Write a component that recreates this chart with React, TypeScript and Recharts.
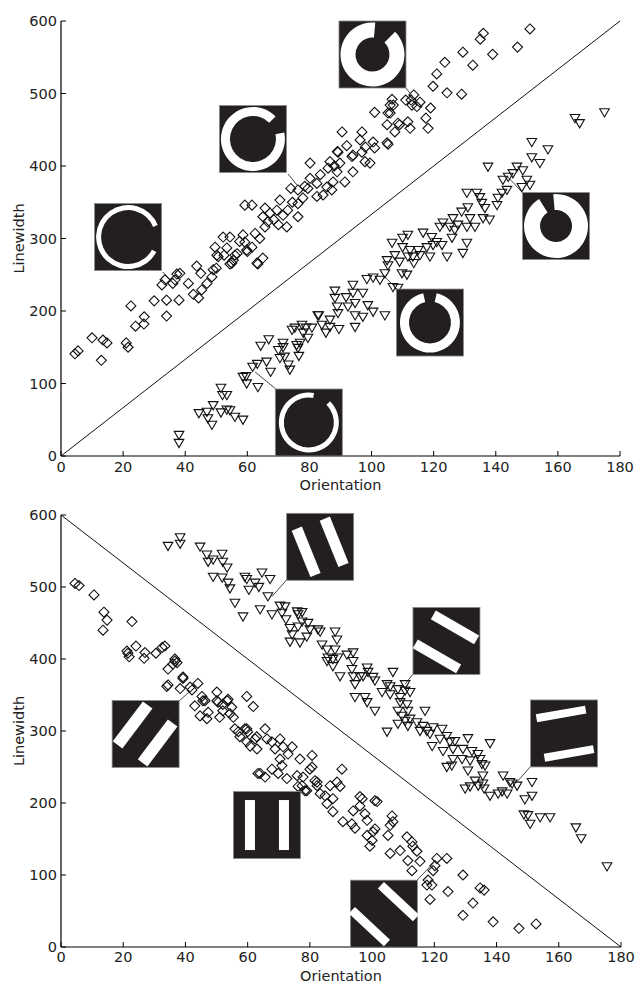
import React from 'react';
import { ScatterChart, Scatter, XAxis, YAxis, ReferenceLine, ReferenceDot } from 'recharts';

type Pt = [number, number];

const xTicks = [0, 20, 40, 60, 80, 100, 120, 140, 160, 180];
const yTicks = [0, 100, 200, 300, 400, 500, 600];
const xLabel = 'Orientation';
const yLabel = 'Linewidth';

// ---------- top panel (rings) ----------
const topDiamonds: Pt[] = [
  [4.5, 141], [5.5, 145], [10, 163], [13, 132], [13.5, 160], [14.8, 156], [21, 156], [21.6, 150], [22.5, 207],
  [24, 179], [26.7, 182], [26.8, 192], [30, 214], [34, 215], [34, 193], [32.5, 236], [33.5, 243], [36, 238],
  [37.3, 251], [36.7, 243], [38, 215], [38.3, 252], [41, 238], [42.6, 223], [44.3, 218], [43.7, 262], [45, 252],
  [45.3, 229], [47, 238], [48.6, 247], [49, 257], [49.6, 288], [50, 259], [50.2, 277], [50.6, 275], [52.2, 302],
  [52.5, 277], [53.4, 287], [54.4, 302], [54.4, 265], [55, 266], [55.5, 270], [56, 277], [56.7, 279], [58.6, 305],
  [59.2, 295], [59.8, 284], [60, 282], [61.5, 288], [62.5, 307], [63.1, 266], [63.4, 265], [65, 273], [59.2, 346],
  [61.5, 346], [65.7, 342], [65, 330], [67.3, 335], [66.6, 323], [65.7, 316], [69.5, 339], [70.5, 353], [71.5, 332],
  [70, 319], [72.7, 316], [74, 369], [73, 339], [76.3, 367], [76.3, 330], [76.3, 348], [77.9, 356], [80.2, 404],
  [80.2, 383], [79.5, 369], [82.4, 376], [82.4, 358], [84.4, 360], [85.6, 371], [86.6, 406], [86, 397], [87.6, 378],
  [88.9, 392], [87.2, 367], [89.8, 404], [89.2, 419], [90.5, 447], [91.4, 378], [93.7, 413], [94, 392], [96.9, 447],
  [96.3, 436], [96.9, 419], [97.9, 406], [99.5, 404], [100.5, 433], [101, 425], [101, 474], [105, 432], [105, 457],
  [106, 473], [107.5, 447], [106, 484], [109, 457], [111.7, 461], [112.4, 452], [113, 484], [151, 589], [147, 564],
  [136, 583], [135, 575], [139, 554], [129.4, 557], [123.6, 543], [132.6, 539], [121, 527], [119.8, 510], [124.3, 501],
  [129, 499], [113.6, 498], [112.7, 491], [111, 491], [115.6, 488], [114.6, 482], [119, 480], [106.6, 492], [105.3, 473],
  [107, 484], [117.5, 466], [108.5, 459], [118.2, 452], [105.3, 430], [94, 415], [98, 426], [89, 420], [57.5, 296],
  [64, 300], [68.5, 326], [74.5, 350], [78.5, 372], [83.5, 388], [88, 400], [92, 428],
];

const topTriangles: Pt[] = [
  [38, 29], [38, 18], [44.4, 59], [47, 61], [47.3, 52], [48.6, 43], [49, 70], [51.5, 60], [51.5, 94], [52, 84],
  [53.4, 84], [53.4, 64], [54.4, 63], [56, 54], [58.6, 50], [58.6, 109], [59.8, 100], [59.6, 110], [61.7, 123],
  [63.4, 95], [63.2, 127], [64.3, 152], [66.2, 130], [66.9, 161], [67.5, 116], [70, 146], [70.5, 135], [71.5, 156],
  [71.5, 150], [72, 137], [73.2, 126], [73.7, 119], [75.3, 177], [75.9, 153], [76.3, 149], [76.6, 138], [77.6, 181],
  [78, 170], [78.9, 177], [79.5, 163], [80.8, 177], [83, 194], [74.4, 174], [77, 156], [82.7, 194], [85.3, 170],
  [84, 181], [86.6, 188], [86.6, 178], [88.2, 228], [88.2, 218], [88.9, 206], [89.2, 197], [89.5, 175], [91.8, 219],
  [92.4, 206], [94, 236], [94, 225], [94.7, 211], [94.7, 194], [94.7, 178], [97.2, 225], [97.2, 192], [98.8, 208],
  [100.5, 199], [98.5, 244], [100.5, 246], [104.3, 194], [102.7, 243], [104.3, 252], [105, 270], [105.3, 263],
  [106.6, 294], [106.9, 233], [108.5, 232], [107.5, 277], [109, 268], [109.8, 252], [110, 301], [110, 288],
  [111.4, 250], [111.7, 305], [112.4, 284], [111.7, 275], [113.6, 266], [113.3, 275], [115, 284], [115.6, 277],
  [116.6, 308], [117.8, 288], [118.8, 275], [119.4, 302], [119.8, 291], [121, 295], [122, 316], [122.7, 291],
  [124.3, 275], [123, 322], [125.2, 316], [126.2, 328], [125.9, 301], [126.8, 312], [127.8, 319], [129, 337],
  [130.7, 363], [131, 343], [130.7, 316], [130.7, 294], [129.4, 280], [131.7, 328], [133.3, 316], [133.9, 363],
  [134.9, 357], [135.5, 349], [136.5, 342], [135.9, 328], [138, 326], [137.5, 399], [140.4, 346], [140.7, 356],
  [142, 363], [142.3, 381], [143.6, 367], [144, 385], [145.5, 390], [146.8, 399], [148.4, 371], [148.7, 394],
  [150, 381], [151, 374], [151.6, 412], [154.2, 404], [151.6, 433], [156.8, 423], [175, 474], [165.5, 466], [167, 459],
];

// ---------- bottom panel (bars) ----------
const bottomDiamonds: Pt[] = [
  [4.5, 505], [5.8, 502], [10.6, 489], [13.8, 465], [14.8, 454], [13.5, 440], [22.8, 452], [21.2, 411], [21.5, 408],
  [21.9, 403], [24.1, 418], [27, 409], [26.7, 401], [30.5, 408], [32.5, 416], [33.4, 418], [34.4, 386], [36, 393],
  [36.6, 400], [37.3, 395], [34.4, 364], [38.3, 359], [39.2, 373], [41.5, 361], [42.1, 357], [44, 366], [43, 335],
  [45.3, 348], [45.6, 342], [44.7, 321], [47.3, 326], [46.9, 317], [50.1, 354], [50.1, 342], [51, 319], [52, 337],
  [53.7, 344], [54.9, 333], [54.3, 324], [55.4, 319], [55.9, 303], [57, 299], [59.7, 348], [61.8, 334], [59.7, 303],
  [59.7, 285], [62.9, 292], [65.6, 303], [36.6, 397], [39.2, 375], [34, 362], [46.3, 342], [50.5, 340], [53.4, 342],
  [52, 328], [59.1, 303], [57.5, 292], [60, 299], [62.4, 289], [60.8, 279], [63, 275], [66.2, 289], [67.8, 285],
  [68.8, 275], [70.4, 289], [71.4, 278], [74.3, 278], [73, 268], [70.4, 261], [71, 252], [64, 241], [65.6, 236],
  [67.8, 247], [69.8, 241], [72.6, 234], [75.9, 238], [76.8, 261], [80.7, 266], [80, 247], [77.8, 236], [77.5, 224],
  [79, 217], [82.3, 224], [81.6, 231], [86.5, 224], [90.3, 247], [88.7, 229], [89.7, 223], [84.9, 210], [87.4, 206],
  [96.1, 209], [100.9, 203], [63.3, 241], [76.2, 223], [78.4, 217], [80.7, 250], [82.3, 229], [83.3, 213], [85.5, 199],
  [87.4, 188], [90.6, 174], [93.5, 171], [94.5, 165], [93.9, 189], [96.8, 206], [96.1, 196], [97.7, 185], [98.4, 176],
  [101.6, 202], [100.3, 160], [98.4, 155], [100, 148], [99.3, 140], [100.9, 164], [105.1, 155], [106.4, 182],
  [106.7, 174], [105.8, 169], [105.8, 130], [109, 134], [111.2, 153], [112.8, 146], [113.1, 140], [114.4, 133],
  [111.5, 120], [112.8, 106], [115.4, 119], [120.8, 123], [124, 123], [120.2, 113], [119.6, 106], [118, 93], [119.2, 86],
  [129.2, 100], [124.4, 77], [117.6, 86], [118.6, 66], [132.4, 61], [134.7, 82], [136, 79], [138.9, 35], [147.2, 26],
  [152.7, 32], [129.2, 44],
];

const bottomTriangles: Pt[] = [
  [34.4, 557], [38.3, 569], [38.3, 560], [44.7, 556], [46.9, 545], [47.3, 535], [48.9, 538], [51.8, 546], [52, 535],
  [53.4, 527], [48.9, 514], [51.8, 513], [53.7, 506], [54.3, 498], [59.1, 514], [59.7, 511], [62.4, 506], [64.6, 520],
  [67.2, 511], [60.4, 496], [63.6, 500], [55.9, 478], [58.5, 459], [64, 469], [66.5, 487], [67.8, 462], [70.4, 474],
  [72, 473], [71, 464], [72.3, 455], [75.9, 466], [76.2, 462], [77.5, 465], [74.3, 434], [73.6, 424], [76.8, 423],
  [79, 431], [73.6, 443], [76.2, 445], [77.5, 452], [79.4, 450], [80, 441], [82.6, 441], [83.3, 438], [88.1, 438],
  [88.7, 427], [83.9, 420], [85.5, 413], [85.8, 402], [87.4, 400], [85.5, 397], [88.1, 413], [89, 402], [89.7, 376],
  [87.4, 390], [91.9, 406], [93.9, 409], [93.9, 397], [93.5, 386], [93.9, 376], [94.5, 365], [96.1, 376], [97.1, 376],
  [98.4, 388], [98.7, 382], [100.3, 375], [100.9, 370], [94.5, 347], [97.7, 347], [98.4, 340], [100.9, 328],
  [106.7, 382], [103.2, 354], [105.8, 351], [104.8, 365], [105.8, 362], [108.3, 358], [109, 347], [110.6, 365],
  [110.6, 356], [112.2, 354], [109, 340], [111.2, 337], [108.3, 328], [111.5, 328], [109.6, 321], [110.6, 314],
  [112.2, 317], [108.3, 310], [111.5, 307], [104.8, 299], [117, 328], [114.4, 312], [116.4, 307], [115.4, 300],
  [117.6, 300], [119.6, 305], [118.6, 296], [122.5, 303], [124, 293], [121.8, 289], [119.3, 279], [122.8, 272],
  [125, 285], [126.6, 286], [126, 275], [126, 261], [124, 250], [125.6, 252], [128.9, 261], [129.2, 275], [130.8, 290],
  [132.1, 272], [131.5, 259], [134, 268], [134.7, 261], [135.3, 254], [136.3, 252], [130.8, 245], [133.1, 231],
  [129.9, 220], [131.5, 223], [135.6, 227], [137.9, 283], [135.6, 238], [142.1, 238], [144.3, 229], [146.6, 224],
  [137.9, 210], [140.5, 213], [141.8, 216], [143.4, 213], [149.1, 205], [151.4, 210], [151.4, 229], [145, 227],
  [148.8, 184], [150.1, 183], [150.8, 171], [154, 180], [157.2, 180], [165.5, 166], [167.2, 151], [175.5, 112],
  [134.1, 224], [136, 220],
];

// ---------- inset pictures ----------
type RingArt = { kind: 'ring'; outer: number; inner: number; gapFrom: number; gapTo: number };
type Bar = { dx: number; dy: number; angle: number; len: number; w: number };
type BarsArt = { kind: 'bars'; bars: Bar[] };
type Inset = { center: Pt; corner?: Pt; anchor?: Pt; art: RingArt | BarsArt };

const topInsets: Inset[] = [
  { center: [100.3, 553.8], corner: [111.1, 507.6], anchor: [113.3, 495.2], art: { kind: 'ring', outer: 32, inner: 17, gapFrom: 45, gapTo: 85 } },
  { center: [61.8, 437.2], corner: [73.1, 389], anchor: [76, 373.8], art: { kind: 'ring', outer: 32, inner: 23, gapFrom: 12, gapTo: 45 } },
  { center: [21.6, 302], corner: [32.8, 253.8], anchor: [34.8, 244], art: { kind: 'ring', outer: 32, inner: 27, gapFrom: -28, gapTo: 22 } },
  { center: [79.8, 46.2], corner: [69.2, 92.4], anchor: [62.5, 115.9], art: { kind: 'ring', outer: 30, inner: 25, gapFrom: 45, gapTo: 80 } },
  { center: [118.8, 184.1], corner: [108.2, 230.3], anchor: [104.3, 246.9], art: { kind: 'ring', outer: 30, inner: 21, gapFrom: 77, gapTo: 103 } },
  { center: [159.4, 317.2], corner: [148.7, 362.8], anchor: [143.9, 384.8], art: { kind: 'ring', outer: 32, inner: 16, gapFrom: 95, gapTo: 122 } },
];

const bottomInsets: Inset[] = [
  { center: [83.3, 555.8], corner: [72.6, 510.2], anchor: [67.8, 486.7], art: { kind: 'bars', bars: [
    { dx: -14, dy: 5, angle: -22, len: 50, w: 11 }, { dx: 14, dy: -5, angle: -22, len: 50, w: 11 }] } },
  { center: [123.9, 425.1], corner: [113.1, 378.8], anchor: [110.6, 365], art: { kind: 'bars', bars: [
    { dx: 8.5, dy: -13.5, angle: -60, len: 50, w: 10 }, { dx: -9.5, dy: 15.5, angle: -60, len: 50, w: 10 }] } },
  { center: [161.7, 296.6], corner: [151.1, 251.6], anchor: [146.6, 229.5], art: { kind: 'bars', bars: [
    { dx: -3, dy: -19.5, angle: 80, len: 50, w: 8 }, { dx: 5, dy: 20, angle: 80, len: 50, w: 8 }] } },
  { center: [27.2, 295.9], corner: [37.9, 341.5], anchor: [41.5, 355.3], art: { kind: 'bars', bars: [
    { dx: -13, dy: -9, angle: 37, len: 50, w: 12 }, { dx: 12, dy: 9, angle: 37, len: 50, w: 12 }] } },
  { center: [66.2, 169.4], art: { kind: 'bars', bars: [
    { dx: -17, dy: 0, angle: 0, len: 50, w: 10 }, { dx: 17, dy: 0, angle: 0, len: 50, w: 10 }] } },
  { center: [103.8, 46.3], corner: [114.4, 92.6], anchor: [119.6, 116.1], art: { kind: 'bars', bars: [
    { dx: -14.5, dy: 13, angle: -47, len: 48, w: 9 }, { dx: 14.5, dy: -12, angle: -47, len: 48, w: 9 }] } },
];

const BOX = 67;
const FONT = 'DejaVu Sans';
const INK = '#222';

function ringPath(cx: number, cy: number, R: number, r: number, gapFrom: number, gapTo: number) {
  const a = (gapTo * Math.PI) / 180;
  const b = ((gapFrom + 360) * Math.PI) / 180;
  const large = gapFrom + 360 - gapTo > 180 ? 1 : 0;
  const p = (rad: number, ang: number) => `${cx + rad * Math.cos(ang)},${cy - rad * Math.sin(ang)}`;
  return `M${p(R, a)} A${R},${R} 0 ${large} 0 ${p(R, b)} L${p(r, b)} A${r},${r} 0 ${large} 1 ${p(r, a)} Z`;
}

function InsetArt({ cx, cy, art }: { cx: number; cy: number; art: RingArt | BarsArt }) {
  if (cx == null || cy == null) return null;
  return (
    <g>
      <rect x={cx - BOX / 2} y={cy - BOX / 2} width={BOX} height={BOX} fill="#231f20" stroke="#8a8a8a" strokeWidth={0.8} />
      {art.kind === 'ring' ? (
        <path d={ringPath(cx, cy, art.outer, art.inner, art.gapFrom, art.gapTo)} fill="#fff" />
      ) : (
        art.bars.map((b, i) => (
          <rect key={i} x={-b.w / 2} y={-b.len / 2} width={b.w} height={b.len} fill="#fff"
            transform={`translate(${cx + b.dx},${cy + b.dy}) rotate(${b.angle})`} />
        ))
      )}
    </g>
  );
}

const DiamondShape = (props: any) => {
  const { cx, cy } = props;
  if (cx == null || cy == null) return null;
  const h = 5;
  return <path d={`M${cx},${cy - h}L${cx + h},${cy}L${cx},${cy + h}L${cx - h},${cy}Z`} fill="none" stroke="#111" strokeWidth={1.1} />;
};

const TriangleShape = (props: any) => {
  const { cx, cy } = props;
  if (cx == null || cy == null) return null;
  return <path d={`M${cx - 4.8},${cy - 3.6}L${cx + 4.8},${cy - 3.6}L${cx},${cy + 4.6}Z`} fill="none" stroke="#111" strokeWidth={1.1} />;
};

const toData = (pts: Pt[]) => pts.map(([x, y]) => ({ x, y }));

function Panel({ width, height, margin, xAxisHeight, tickMargin, titleOffset, diamonds, triangles, diagonal, insets }: {
  width: number; height: number; margin: any; xAxisHeight: number; tickMargin: number; titleOffset: number;
  diamonds: Pt[]; triangles: Pt[]; diagonal: [Pt, Pt]; insets: Inset[];
}) {
  const xTitle = (p: any) => {
    const vb = p.viewBox || {};
    return (
      <text x={vb.x + vb.width / 2} y={vb.y + titleOffset} textAnchor="middle" fontFamily={FONT} fontSize={14.5} fill={INK}>
        {xLabel}
      </text>
    );
  };
  const yTitle = (p: any) => {
    const vb = p.viewBox || {};
    const cy = vb.y + vb.height / 2;
    return (
      <text x={16} y={cy} transform={`rotate(-90, 16, ${cy})`} textAnchor="middle" fontFamily={FONT} fontSize={14.5} fill={INK}>
        {yLabel}
      </text>
    );
  };
  return (
    <ScatterChart width={width} height={height} margin={margin}>
      <XAxis type="number" dataKey="x" domain={[0, 180]} ticks={xTicks} interval={0} height={xAxisHeight}
        tickSize={-5} tickMargin={tickMargin}
        axisLine={{ stroke: '#000', strokeWidth: 1.2 }} tickLine={{ stroke: '#000', strokeWidth: 1 }}
        tick={{ fill: INK, fontSize: 14.5, fontFamily: FONT }} label={{ content: xTitle }} />
      <YAxis type="number" dataKey="y" domain={[0, 600]} ticks={yTicks} interval={0} width={53}
        tickSize={-5} tickMargin={9}
        axisLine={{ stroke: '#000', strokeWidth: 1.2 }} tickLine={{ stroke: '#000', strokeWidth: 1 }}
        tick={{ fill: INK, fontSize: 14.5, fontFamily: FONT }} label={{ content: yTitle }} />
      <ReferenceLine segment={[{ x: diagonal[0][0], y: diagonal[0][1] }, { x: diagonal[1][0], y: diagonal[1][1] }]}
        stroke="#111" strokeWidth={1} />
      <Scatter data={toData(diamonds)} shape={DiamondShape} isAnimationActive={false} />
      <Scatter data={toData(triangles)} shape={TriangleShape} isAnimationActive={false} />
      {insets.filter((s) => s.corner && s.anchor).map((s, i) => (
        <ReferenceLine key={`l${i}`} ifOverflow="visible"
          segment={[{ x: s.anchor![0], y: s.anchor![1] }, { x: s.corner![0], y: s.corner![1] }]}
          stroke="#333" strokeWidth={0.9} />
      ))}
      {insets.map((s, i) => (
        <ReferenceDot key={`d${i}`} x={s.center[0]} y={s.center[1]} r={1} ifOverflow="visible"
          shape={(p: any) => <InsetArt cx={p.cx} cy={p.cy} art={s.art} />} />
      ))}
    </ScatterChart>
  );
}

export default function App() {
  return (
    <div style={{ position: 'absolute', top: 8, left: 8, width: 630, height: 976, overflow: 'hidden' }}>
      <Panel width={630} height={490} margin={{ top: 13, right: 18, bottom: 7, left: 0 }} xAxisHeight={35}
        tickMargin={11} titleOffset={34}
        diamonds={topDiamonds} triangles={topTriangles} diagonal={[[0, 0], [180, 600]]} insets={topInsets} />
      <Panel width={630} height={486} margin={{ top: 17, right: 17, bottom: 0, left: 0 }} xAxisHeight={37}
        tickMargin={10} titleOffset={33.5}
        diamonds={bottomDiamonds} triangles={bottomTriangles} diagonal={[[0, 600], [180, 0]]} insets={bottomInsets} />
    </div>
  );
}
